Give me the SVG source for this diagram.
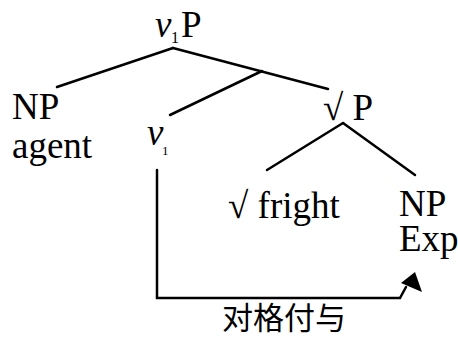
<svg xmlns="http://www.w3.org/2000/svg" width="458" height="340" viewBox="0 0 458 340">
<style>
text{font-family:"Liberation Serif","Times New Roman",serif;fill:#000;font-size:37px}
.it{font-style:italic}
.cjk{font-family:"Noto Sans CJK SC","Noto Sans CJK JP",sans-serif;font-size:31px}
.e{stroke:#000;stroke-width:2.5;fill:none;stroke-linecap:round}
</style>
<g id="edges">
<path class="e" d="M173,48 L57,87"/>
<path class="e" d="M173,48 L328,89"/>
<path class="e" d="M262,71 L170,115"/>
<path class="e" d="M343,123 L267,170"/>
<path class="e" d="M343,123 L415,175"/>
<path d="M157,170 L157,298 L400,298 L406,287" class="e"/>
<path d="M401,283 L415,272 L422,292 z" fill="#000"/>
</g>
<g id="v1P"><text x="155" y="37" class="it">ν</text><text x="171" y="43" style="font-size:16px">1</text><text x="181" y="37">P</text></g>
<g id="NP-agent"><text x="12" y="119">NP</text><text x="12" y="158">agent</text></g>
<g id="v1"><text x="147" y="145" class="it">ν</text><text x="162" y="155" style="font-size:13px">1</text></g>
<g id="rootP"><text x="323" y="120">√ P</text></g>
<g id="root-fright"><text x="228" y="218">√ fright</text></g>
<g id="NP-Exp"><text x="399" y="216">NP</text><text x="399" y="251">Exp</text></g>
<g id="label"><text x="222" y="329" class="cjk">对格付与</text></g>
</svg>
